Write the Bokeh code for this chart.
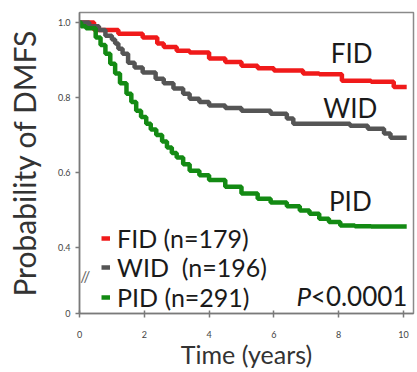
from bokeh.plotting import figure
from bokeh.models import Label, Legend, LegendItem, FixedTicker, Range1d
from bokeh.embed import file_html
from bokeh.resources import INLINE

# ---- data ----
fid_t = [0, 0.45, 1.2, 1.95, 2.4, 2.6, 3.0, 3.4, 4.0, 4.5, 5.0, 5.5, 6.0, 6.9, 7.4, 8.1, 9.0, 9.7, 10.1]
fid_s = [1.0, 0.98, 0.97, 0.96, 0.944, 0.935, 0.925, 0.92, 0.904, 0.895, 0.885, 0.878, 0.872, 0.864, 0.862, 0.845, 0.842, 0.828, 0.828]

wid_t = [0, 0.3, 0.6, 0.8, 1.0, 1.1, 1.2, 1.33, 1.5, 1.7, 1.95, 2.35, 2.6, 2.9, 3.2, 3.4, 3.7, 4.0, 4.5, 5.0, 5.9, 6.4, 6.6, 8.35, 8.9, 9.4, 9.6, 10.1]
wid_s = [1.0, 0.99, 0.98, 0.965, 0.955, 0.944, 0.93, 0.917, 0.893, 0.88, 0.867, 0.85, 0.838, 0.824, 0.81, 0.797, 0.788, 0.779, 0.772, 0.765, 0.757, 0.744, 0.73, 0.725, 0.717, 0.704, 0.693, 0.693]

pid_t = [0, 0.05, 0.2, 0.5, 0.65, 0.8, 0.95, 1.1, 1.25, 1.45, 1.6, 1.75, 1.9, 2.06, 2.2, 2.37, 2.55, 2.7, 2.85, 3.0, 3.2, 3.4, 3.7, 4.0, 4.5, 5.0, 5.5, 5.9, 6.4, 6.8, 7.1, 7.4, 7.7, 8.05, 8.5, 9.0, 10.1]
pid_s = [1.0, 0.99, 0.985, 0.96, 0.94, 0.917, 0.89, 0.864, 0.838, 0.81, 0.788, 0.765, 0.748, 0.73, 0.715, 0.70, 0.683, 0.667, 0.652, 0.64, 0.622, 0.605, 0.593, 0.58, 0.562, 0.544, 0.53, 0.52, 0.51, 0.499, 0.49, 0.477, 0.468, 0.459, 0.457, 0.456, 0.456]

group_names = ["FID", "WID", "PID"]
legend_labels = ["FID (n=179)", "WID  (n=196)", "PID (n=291)"]
colors = ["#f01a1a", "#555555", "#138a13"]

x_ticks = [0, 2, 4, 6, 8, 10]
y_ticks = [0.224, 0.4, 0.6, 0.8, 1.0]
y_tick_labels = {0.224: "0", 0.4: "0.4", 0.6: "0.6", 0.8: "0.8", 1.0: "1.0"}
p_value_text = "<0.0001"
x_title = "Time (years)"
y_title = "Probability of DMFS"

FONT = "Lato"

p = figure(width=417, height=372, output_backend="svg", toolbar_location=None,
           x_range=Range1d(0, 10.31), y_range=Range1d(0.224, 1.027),
           min_border_left=79, min_border_right=4, min_border_top=12, min_border_bottom=59)

p.grid.visible = False
p.outline_line_color = "#8a8a8a"
p.outline_line_width = 1.5
p.background_fill_color = "white"
p.border_fill_color = "white"

rs = []
for t, s, c in [(fid_t, fid_s, colors[0]), (wid_t, wid_s, colors[1]), (pid_t, pid_s, colors[2])]:
    r = p.step(t, s, mode="after", line_color=c, line_width=4.5)
    rs.append(r)

# axes
for ax in (p.xaxis[0], p.yaxis[0]):
    ax.axis_line_color = "#7a7a7a"
    ax.axis_line_width = 1.5
    ax.major_tick_line_color = "#7a7a7a"
    ax.major_tick_line_width = 1.5
    ax.minor_tick_line_color = None
    ax.major_label_text_font = FONT
    ax.major_label_text_font_size = "9px"
    ax.major_label_text_color = "#444444"
    ax.axis_label_text_font = FONT
    ax.axis_label_text_font_style = "normal"
    ax.axis_label_text_color = "#333333"

p.xaxis.ticker = FixedTicker(ticks=x_ticks)
p.xaxis.major_tick_in = 3
p.xaxis.major_tick_out = 4
p.xaxis.major_label_standoff = 13
p.xaxis.axis_label = x_title
p.xaxis.axis_label_text_font_size = "25px"
p.xaxis.axis_label_standoff = -2

p.yaxis.ticker = FixedTicker(ticks=y_ticks)
p.yaxis.major_label_overrides = y_tick_labels
p.yaxis.major_tick_in = 0
p.yaxis.major_tick_out = 4
p.yaxis.major_label_standoff = 5
p.yaxis.axis_label = y_title
p.yaxis.axis_label_text_font_size = "30px"
p.yaxis.axis_label_standoff = 13

# axis break mark
p.add_layout(Label(x=0.02, y=0.323, text="//", text_font=FONT, text_font_size="15px",
                   text_color="#666666", text_align="left", text_baseline="middle"))

# curve labels
for name, xx, yy in [("FID", 8.4, 0.92), ("WID", 8.36, 0.773), ("PID", 8.36, 0.523)]:
    p.add_layout(Label(x=xx, y=yy, text=name, text_font=FONT, text_font_size="26px",
                       text_color="#1a1a1a", text_align="center", text_baseline="middle"))

# P value
p.add_layout(Label(x=6.7, y=0.27, text="P", text_font=FONT, text_font_size="26px",
                   text_font_style="italic", text_color="#1a1a1a", text_baseline="middle"))
p.add_layout(Label(x=7.14, y=0.27, text=p_value_text, text_font=FONT, text_font_size="26px",
                   text_color="#1a1a1a", text_baseline="middle"))

# legend: one single-entry legend per group so that line spacing matches
legend_offsets = [60, 31, 1]
for lab, r, off in zip(legend_labels, rs, legend_offsets):
    lg = Legend(items=[LegendItem(label=lab, renderers=[r])],
                location=(22, off), orientation="vertical",
                label_text_font=FONT, label_text_font_size="25px", label_text_color="#1a1a1a",
                glyph_width=9, glyph_height=30, label_standoff=7, label_height=30,
                spacing=0, padding=0, margin=0,
                border_line_color=None, background_fill_alpha=0)
    p.add_layout(lg)

open("out.html", "w").write(file_html(p, INLINE))
